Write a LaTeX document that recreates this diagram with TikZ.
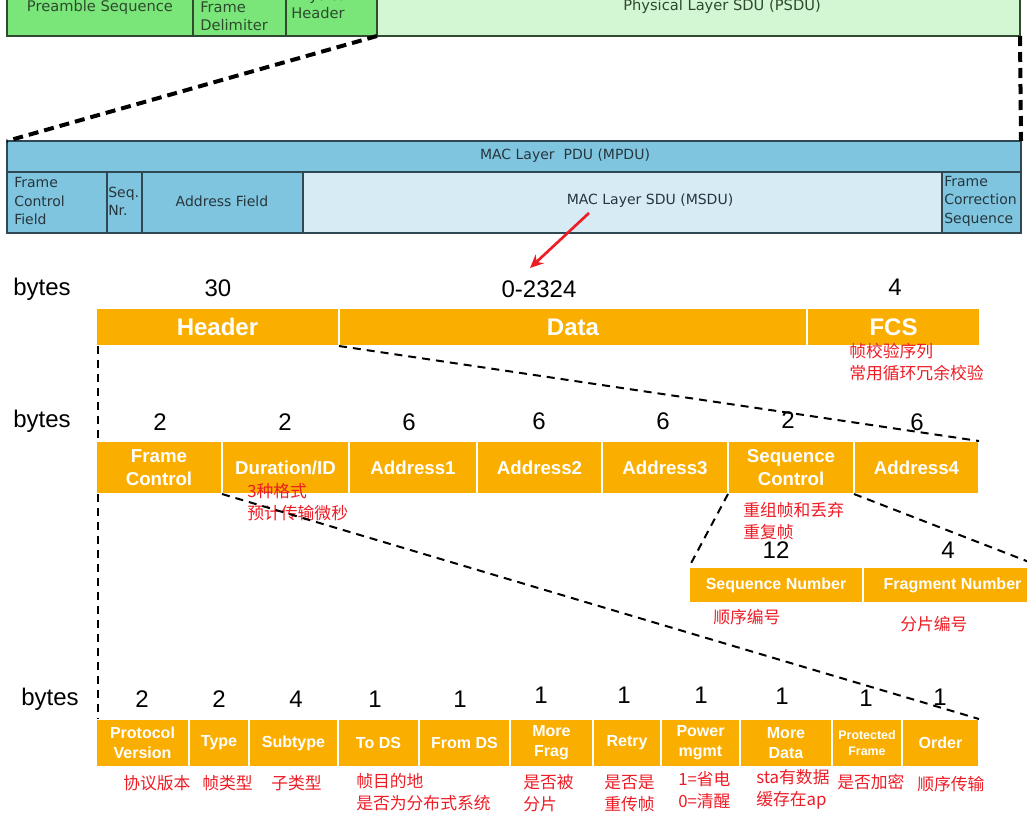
\documentclass[tikz,border=0pt]{standalone}
\usepackage{fontspec}
\setmainfont{Liberation Sans}
\newfontfamily\dvs{DejaVu Sans}
\newfontfamily\cjk{Noto Sans CJK SC}
\usetikzlibrary{arrows.meta,calc}

\definecolor{phygreen}{HTML}{7AE67A}
\definecolor{psdugreen}{HTML}{D3F6D3}
\definecolor{phyedge}{HTML}{2F4A2F}
\definecolor{phytext}{HTML}{2E4A2E}
\definecolor{macblue}{HTML}{80C5DF}
\definecolor{msdublue}{HTML}{D6EBF4}
\definecolor{macedge}{HTML}{2E4954}
\definecolor{mactext}{HTML}{27363C}
\definecolor{fieldorange}{HTML}{FAAE00}
\definecolor{notered}{HTML}{EE1C25}

% a field cell: style, name, x1, y1, x2, y2, text  (pixel coordinates, y downwards)
\newcommand\fieldbox[7]{%
  \node[#1, anchor=north west, minimum width={(#5-#3)*0.75pt},
        minimum height={(#6-#4)*0.75pt}] (#2) at (#3,#4) {#7};}

\begin{document}
\begin{tikzpicture}[x=0.75pt, y=-0.75pt,
  phycell/.style={draw=phyedge, line width=1pt, fill=phygreen, inner sep=0, outer sep=0},
  psducell/.style={phycell, fill=psdugreen},
  phytxt/.style={text=phytext, font=\dvs\fontsize{11}{13.5}\selectfont, align=left, inner sep=0},
  maccell/.style={draw=macedge, line width=1pt, fill=macblue, inner sep=0, outer sep=0},
  msducell/.style={maccell, fill=msdublue},
  mactxt/.style={text=mactext, font=\dvs\fontsize{10.5}{13.8}\selectfont, align=left, inner sep=0},
  ocell/.style={fill=fieldorange, draw=white, line width=0.8pt, text=white, align=center, inner sep=0, outer sep=0},
  bigf/.style={font=\bfseries\fontsize{18}{20}\selectfont},
  midf/.style={font=\bfseries\fontsize{14}{17}\selectfont},
  smallf/.style={font=\bfseries\fontsize{12}{15}\selectfont},
  tinyf/.style={font=\bfseries\fontsize{9.3}{12}\selectfont},
  bytelbl/.style={font=\fontsize{18}{20}\selectfont, anchor=base west, inner sep=0},
  num/.style={font=\fontsize{18}{20}\selectfont, inner sep=0},
  % the base anchor of a two-line note sits on its second line
  note/.style={text=notered, font=\cjk\fontsize{12.6}{16}\selectfont, anchor=base west, inner sep=0, align=left},
  thickdash/.style={line width=3pt, dash pattern=on 7.5pt off 4.5pt},
  thindash/.style={line width=1.5pt, dash pattern=on 6pt off 4.5pt},
  redarrow/.style={draw=notered, line width=2pt, -{Stealth[length=10pt, width=9pt]}},
]
\useasboundingbox (0,0) rectangle (1027,829);
\clip (0,0) rectangle (1027,829);

% ---------- PHY frame ----------
\fieldbox{phycell}{pre}{7}{-26}{193}{36}{}
\fieldbox{phycell}{sfd}{193}{-26}{286}{36}{}
\fieldbox{phycell}{phyhdr}{286}{-26}{377}{36}{}
\fieldbox{psducell}{psdu}{377}{-26}{1020}{36}{}
\node[phytxt] (preT) at (100,7) {Preamble Sequence};
\node[phytxt, anchor=west] (sfdT) at (200,16) {Frame\\Delimiter};
\node[phytxt, anchor=west] (phyhdrT) at (291,4) {Physical\\Header};
\node[phytxt] (psduT) at (722,6) {Physical Layer SDU (PSDU)};

% ---------- MAC frame ----------
\fieldbox{maccell}{mpdu}{7}{141}{1021}{172}{}
\fieldbox{maccell}{fcf}{7}{172}{107}{233}{}
\fieldbox{maccell}{seqnr}{107}{172}{142}{233}{}
\fieldbox{maccell}{addrf}{142}{172}{303}{233}{}
\fieldbox{msducell}{msdu}{303}{172}{942}{233}{}
\fieldbox{maccell}{fcsq}{942}{172}{1021}{233}{}
\node[mactxt] (mpduT) at (565,156) {MAC Layer\ \ PDU (MPDU)};
\node[mactxt, anchor=west] (fcfT) at (14,201) {Frame\\Control\\Field};
\node[mactxt, anchor=west] (seqnrT) at (108,201) {Seq.\\Nr.};
\node[mactxt] (addrfT) at (222,201) {Address Field};
\node[mactxt] (msduT) at (650,201) {MAC Layer SDU (MSDU)};
\node[mactxt, anchor=west] (fcsqT) at (944,201) {Frame\\Correction\\Sequence};

\draw[thickdash] (phyhdr.south east) -- (mpdu.north west);
\draw[thickdash] (psdu.south east) -- (mpdu.north east);

% ---------- 802.11 frame ----------
\node[bytelbl] (by1) at (13,295) {bytes};
\node[num] (n30) at (218,288) {30};
\node[num] (ndata) at (539,289) {0-2324};
\node[num] (nfcs) at (895,287) {4};
\fieldbox{ocell,bigf}{hdr}{96}{308}{339}{346}{Header}
\fieldbox{ocell,bigf}{data}{339}{308}{807}{346}{Data}
\fieldbox{ocell,bigf}{fcs}{807}{308}{980}{346}{FCS}

\coordinate (arrowtail) at (589,213);
\coordinate (arrowtip) at (530,268);
\draw[redarrow] (arrowtail) -- (arrowtip);

\node[note] (nFcs) at (849,379) {帧校验序列\\常用循环冗余校验};

% ---------- MAC header ----------
\node[bytelbl] (by2) at (13,427) {bytes};
\node[num] (h1) at (160,422) {2};
\node[num] (h2) at (285,422) {2};
\node[num] (h3) at (409,422) {6};
\node[num] (h4) at (539,421) {6};
\node[num] (h5) at (663,421) {6};
\node[num] (h6) at (788,420) {2};
\node[num] (h7) at (917,422) {6};
\fieldbox{ocell,midf}{fc}{96}{441}{222}{494}{Frame\\Control}
\fieldbox{ocell,midf}{dur}{222}{441}{349}{494}{Duration/ID}
\fieldbox{ocell,midf}{a1}{349}{441}{477}{494}{Address1}
\fieldbox{ocell,midf}{a2}{477}{441}{602}{494}{Address2}
\fieldbox{ocell,midf}{a3}{602}{441}{728}{494}{Address3}
\fieldbox{ocell,midf}{sc}{728}{441}{854}{494}{Sequence\\Control}
\fieldbox{ocell,midf}{a4}{854}{441}{979}{494}{Address4}

\draw[thindash] ([xshift=1.5pt]hdr.south west) -- ([xshift=1.5pt]fc.north west);
\draw[thindash] (hdr.south east) -- (a4.north east);

\node[note] (nDur) at (247,519) {3种格式\\预计传输微秒};
\node[note] (nSc) at (743,538) {重组帧和丢弃\\重复帧};

% ---------- Sequence Control ----------
\node[num] (s1) at (776,550) {12};
\node[num] (s2) at (948,550) {4};
\fieldbox{ocell,smallf}{sn}{689}{567}{863}{603}{Sequence Number}
\fieldbox{ocell,smallf}{fn}{863}{567}{1042}{603}{Fragment Number}
\draw[thindash] (sc.south west) -- (sn.north west);
\draw[thindash] (sc.south east) -- (fn.north east);
\node[note] (nSn) at (713,623) {顺序编号};
\node[note] (nFn) at (900,630) {分片编号};

% ---------- Frame Control ----------
\node[bytelbl] (by3) at (21,705) {bytes};
\node[num] (f1) at (142,699) {2};
\node[num] (f2) at (219,699) {2};
\node[num] (f3) at (296,699) {4};
\node[num] (f4) at (375,699) {1};
\node[num] (f5) at (460,699) {1};
\node[num] (f6) at (541,695) {1};
\node[num] (f7) at (624,695) {1};
\node[num] (f8) at (701,695) {1};
\node[num] (f9) at (782,696) {1};
\node[num] (f10) at (866,698) {1};
\node[num] (f11) at (940,697) {1};
\fieldbox{ocell,smallf}{pv}{96}{719}{189}{767}{Protocol\\Version}
\fieldbox{ocell,smallf}{type}{189}{719}{249}{767}{Type}
\fieldbox{ocell,smallf}{subtype}{249}{719}{338}{767}{Subtype}
\fieldbox{ocell,smallf}{tods}{338}{719}{419}{767}{To DS}
\fieldbox{ocell,smallf}{fromds}{419}{719}{510}{767}{From DS}
\fieldbox{ocell,smallf}{morefrag}{510}{719}{593}{767}{More\\Frag}
\fieldbox{ocell,smallf}{retry}{593}{719}{661}{767}{Retry}
\fieldbox{ocell,smallf}{pwr}{661}{719}{740}{767}{Power\\mgmt}
\fieldbox{ocell,smallf}{moredata}{740}{719}{832}{767}{More\\Data}
\fieldbox{ocell,tinyf}{prot}{832}{719}{902}{767}{Protected\\Frame}
\fieldbox{ocell,smallf}{order}{902}{719}{979}{767}{Order}

\draw[thindash] ([xshift=1.5pt]fc.south west) -- ([xshift=1.5pt]pv.north west);
\draw[thindash] (fc.south east) -- (order.north east);

\node[note] (nPv) at (123,789) {协议版本};
\node[note] (nType) at (202,789) {帧类型};
\node[note] (nSub) at (271,789) {子类型};
\node[note] (nTods) at (356,809) {帧目的地\\是否为分布式系统};
\node[note] (nMf) at (523,810) {是否被\\分片};
\node[note] (nRetry) at (604,810) {是否是\\重传帧};
\node[note] (nPwr) at (678,807) {1=省电\\0=清醒};
\node[note] (nMd) at (756,805) {sta有数据\\缓存在ap};
\node[note] (nProt) at (837,788) {是否加密};
\node[note] (nOrder) at (917,790) {顺序传输};
\end{tikzpicture}
\end{document}
